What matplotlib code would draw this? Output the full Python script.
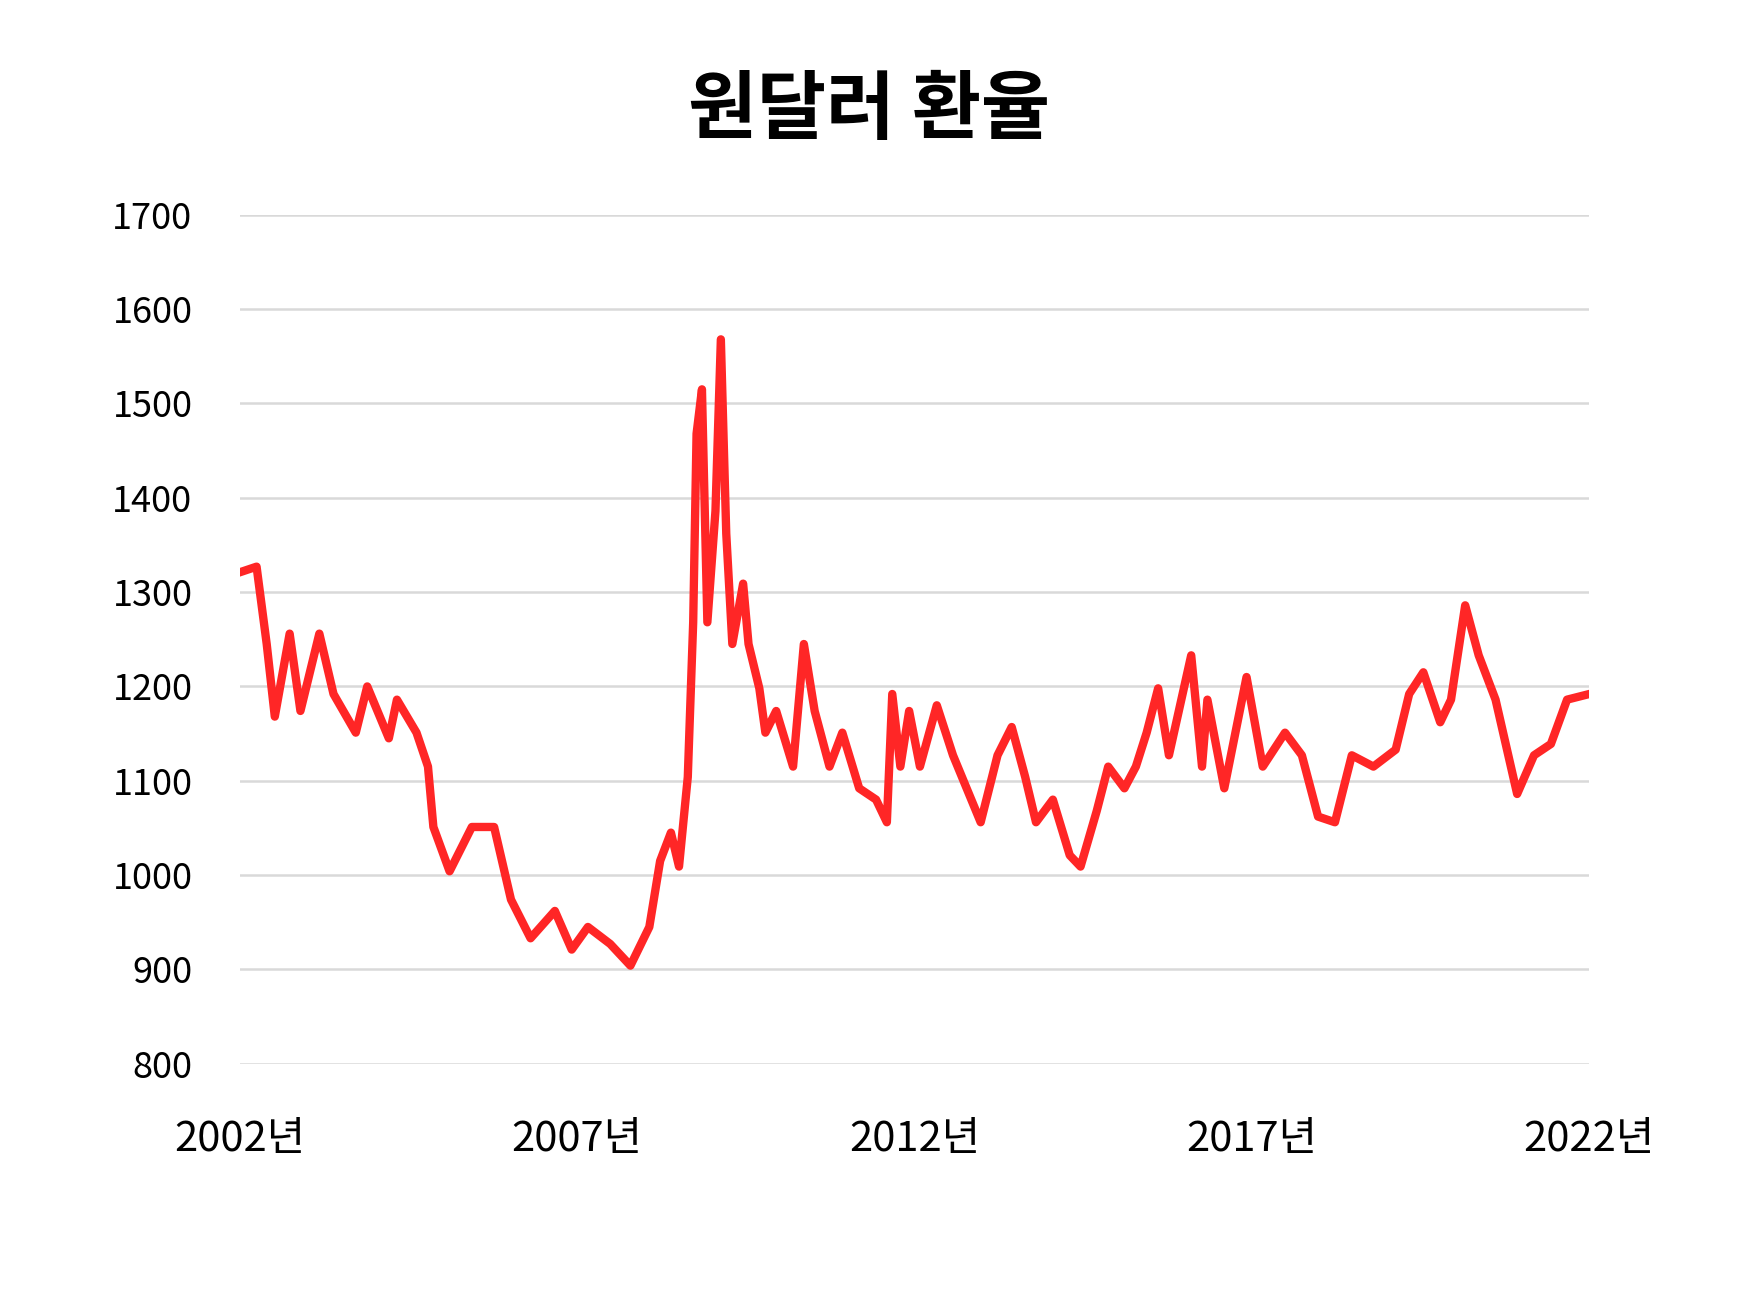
import matplotlib
matplotlib.use("Agg")
import matplotlib.pyplot as plt

plt.rcParams['font.family'] = ['Noto Sans CJK KR', 'DejaVu Sans']

# 연도(소수) / 원달러 환율
years = [2002.0, 2002.25, 2002.4, 2002.52, 2002.74, 2002.9, 2003.18, 2003.39, 2003.72, 2003.89,
         2004.21, 2004.33, 2004.62, 2004.79, 2004.87, 2005.11, 2005.44, 2005.77, 2006.02, 2006.31,
         2006.67, 2006.92, 2007.16, 2007.49, 2007.79, 2008.07, 2008.23, 2008.39, 2008.51, 2008.64,
         2008.72, 2008.77, 2008.85, 2008.93, 2009.05, 2009.13, 2009.21, 2009.3, 2009.46, 2009.54,
         2009.7, 2009.79, 2009.95, 2010.2, 2010.36, 2010.52, 2010.74, 2010.93, 2011.18, 2011.43,
         2011.59, 2011.67, 2011.79, 2011.92, 2012.08, 2012.33, 2012.57, 2012.98, 2013.23, 2013.44,
         2013.64, 2013.8, 2014.05, 2014.3, 2014.46, 2014.7, 2014.87, 2015.11, 2015.28, 2015.44,
         2015.61, 2015.77, 2016.1, 2016.26, 2016.34, 2016.59, 2016.92, 2017.16, 2017.49, 2017.74,
         2017.98, 2018.23, 2018.48, 2018.8, 2019.13, 2019.33, 2019.54, 2019.79, 2019.95, 2020.16,
         2020.36, 2020.61, 2020.93, 2021.18, 2021.43, 2021.67, 2022.0]
rates = [1321, 1327, 1245, 1168, 1256, 1174, 1256, 1192, 1151, 1200,
         1145, 1186, 1151, 1115, 1051, 1004, 1051, 1051, 974, 933,
         962, 921, 945, 927, 904, 945, 1015, 1045, 1009, 1104,
         1268, 1468, 1515, 1268, 1386, 1568, 1362, 1245, 1309, 1245,
         1198, 1151, 1174, 1115, 1245, 1174, 1115, 1151, 1092, 1080,
         1056, 1192, 1115, 1174, 1115, 1180, 1127, 1056, 1127, 1157,
         1104, 1056, 1080, 1021, 1009, 1068, 1115, 1092, 1115, 1151,
         1198, 1127, 1233, 1115, 1186, 1092, 1210, 1115, 1151, 1127,
         1062, 1056, 1127, 1115, 1133, 1192, 1215, 1162, 1186, 1286,
         1233, 1186, 1086, 1127, 1139, 1186, 1192]

xticks = [2002, 2007, 2012, 2017, 2022]
xtick_labels = ['2002년', '2007년', '2012년', '2017년', '2022년']
yticks = [800, 900, 1000, 1100, 1200, 1300, 1400, 1500, 1600, 1700]

fig = plt.figure(figsize=(17.37, 13.1), dpi=100)
ax = fig.add_axes([0.138, 0.188, 0.777, 0.648])
ax.plot(years, rates, color='#ff2626', linewidth=6)
ax.set_xlim(2002, 2022)
ax.set_ylim(800, 1700)
ax.set_yticks(yticks)
ax.set_xticks(xticks)
ax.set_xticklabels(xtick_labels)
ax.grid(axis='y', color='#d9d9d9', linewidth=1.8)
ax.set_axisbelow(True)
for s in ax.spines.values():
    s.set_visible(False)
ax.tick_params(length=0, labelsize=26)
ax.tick_params(axis='x', labelsize=30, pad=40)
ax.tick_params(axis='y', pad=34)
fig.text(0.5, 0.915, '원달러 환율', ha='center', va='center', fontsize=54, fontweight='bold')
fig.savefig('out.png')
